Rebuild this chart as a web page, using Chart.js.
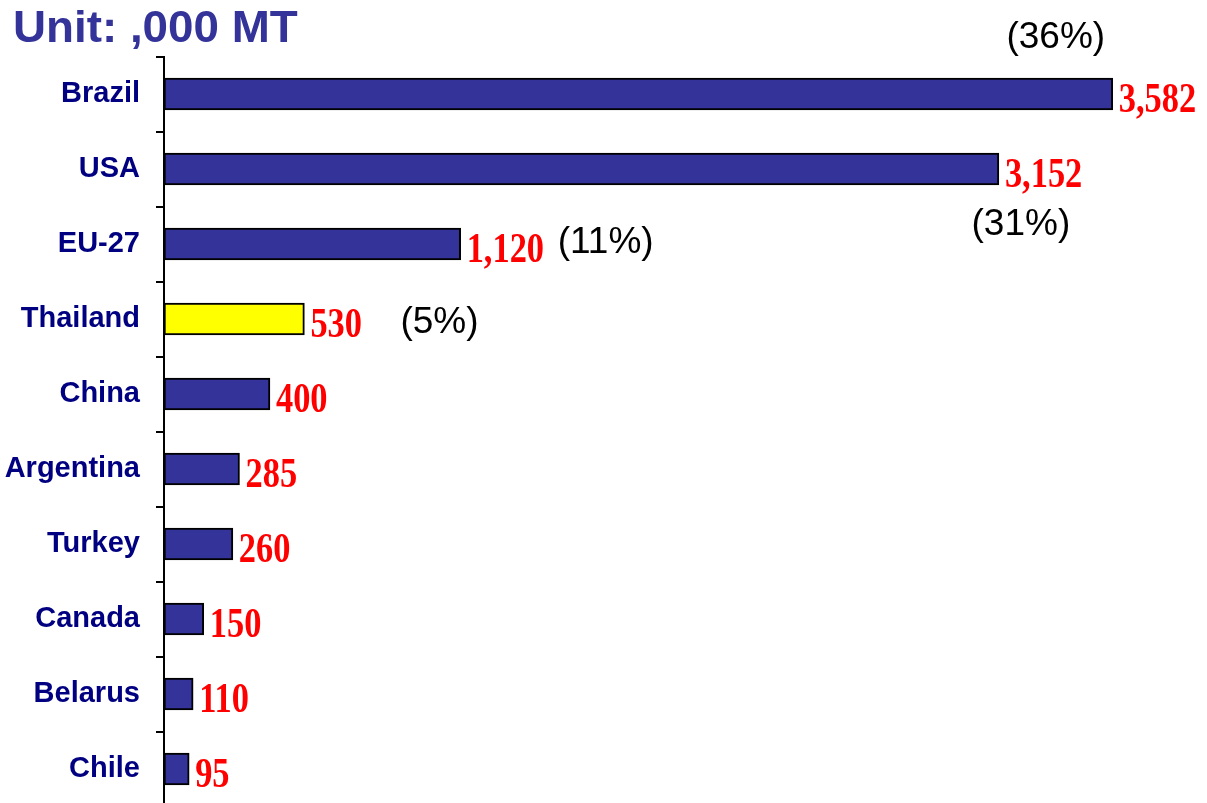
<!DOCTYPE html>
<html>
<head>
<meta charset="utf-8">
<title>Production, ,000 MT</title>
<script src="https://cdn.jsdelivr.net/npm/chart.js@4/dist/chart.umd.min.js"></script>
<style>
  html, body { margin: 0; padding: 0; background: #fff; overflow: hidden; }
  canvas { display: block; }
</style>
</head>
<body>
<canvas id="chart" width="1207" height="810"></canvas>
<script>
// Data
const categories = ['Brazil', 'USA', 'EU-27', 'Thailand', 'China', 'Argentina', 'Turkey', 'Canada', 'Belarus', 'Chile'];
const values = [3582, 3152, 1120, 530, 400, 285, 260, 150, 110, 95];
const shares = ['(36%)', '(31%)', '(11%)', '(5%)'];
const highlight = 'Thailand';
const unitTitle = 'Unit: ,000 MT';

// Colours
const BAR_BLUE = '#333399';
const BAR_YELLOW = '#ffff00';
const LABEL_NAVY = '#000080';

// Where each share label sits, relative to the end / centre of its bar
const shareLayout = [
    { dx: -57, dy: -46, align: 'center' },
    { dx: 22, dy: 66, align: 'center' },
    { dx: 97, dy: 9, align: 'left' },
    { dx: 96, dy: 14, align: 'left' }
];

/**
 * Draws the unit title, red value labels after each bar and the share labels
 */
const barLabels = {
    id: 'barLabels',
    afterDatasetsDraw(chart) {
        const ctx = chart.ctx;
        const bars = chart.getDatasetMeta(0).data;

        // unit title, top left (a touch wider than the stock font)
        ctx.save();
        ctx.translate(13, 42);
        ctx.scale(1.04, 1);
        ctx.font = 'bold 44px "Liberation Sans", Arial, sans-serif';
        ctx.fillStyle = BAR_BLUE;
        ctx.textAlign = 'left';
        ctx.textBaseline = 'alphabetic';
        ctx.fillText(unitTitle, 0, 0);
        ctx.restore();

        bars.forEach((bar, i) => {
            // value, slightly condensed serif like the original
            ctx.save();
            ctx.translate(bar.x + 6, bar.y + 18);
            ctx.scale(0.8, 1);
            ctx.font = 'bold 43px "Liberation Serif", "Times New Roman", serif';
            ctx.fillStyle = '#ff0000';
            ctx.textAlign = 'left';
            ctx.textBaseline = 'alphabetic';
            ctx.fillText(values[i].toLocaleString('en-US'), 0, 0);
            ctx.restore();

            if (i < shares.length) {
                const pos = shareLayout[i];
                ctx.save();
                ctx.font = '37px "Liberation Sans", Arial, sans-serif';
                ctx.fillStyle = '#000';
                ctx.textAlign = pos.align;
                ctx.textBaseline = 'alphabetic';
                ctx.fillText(shares[i], bar.x + pos.dx, bar.y + pos.dy);
                ctx.restore();
            }
        });
    }
};

const ctx = document.getElementById('chart').getContext('2d');
new Chart(ctx, {
    type: 'bar',
    data: {
        labels: categories,
        datasets: [{
            data: values,
            backgroundColor: categories.map(c => c === highlight ? BAR_YELLOW : BAR_BLUE),
            borderColor: '#000',
            borderWidth: 2,
            borderSkipped: false,
            barThickness: 32
        }]
    },
    options: {
        indexAxis: 'y',
        responsive: false,
        animation: false,
        devicePixelRatio: 1,
        layout: {
            padding: { left: 0, right: 10, top: 56.5, bottom: 3.5 }
        },
        plugins: {
            legend: { display: false },
            tooltip: { enabled: false },
            title: { display: false }
        },
        scales: {
            x: {
                display: false,
                min: 0,
                max: 3900
            },
            y: {
                afterFit(scale) {
                    // fixed axis width, no extra padding for the end labels
                    scale.width = 164;
                    scale.paddingTop = 0;
                    scale.paddingBottom = 0;
                },
                border: { display: true, color: '#000', width: 2 },
                grid: {
                    display: true,
                    drawOnChartArea: false,
                    drawTicks: true,
                    tickLength: 8,
                    color: '#000',
                    lineWidth: 2,
                    offset: true
                },
                ticks: {
                    color: LABEL_NAVY,
                    padding: 16,
                    font: { family: '"Liberation Sans", Arial, sans-serif', size: 29, weight: 'bold' }
                }
            }
        }
    },
    plugins: [barLabels]
});
</script>
</body>
</html>
